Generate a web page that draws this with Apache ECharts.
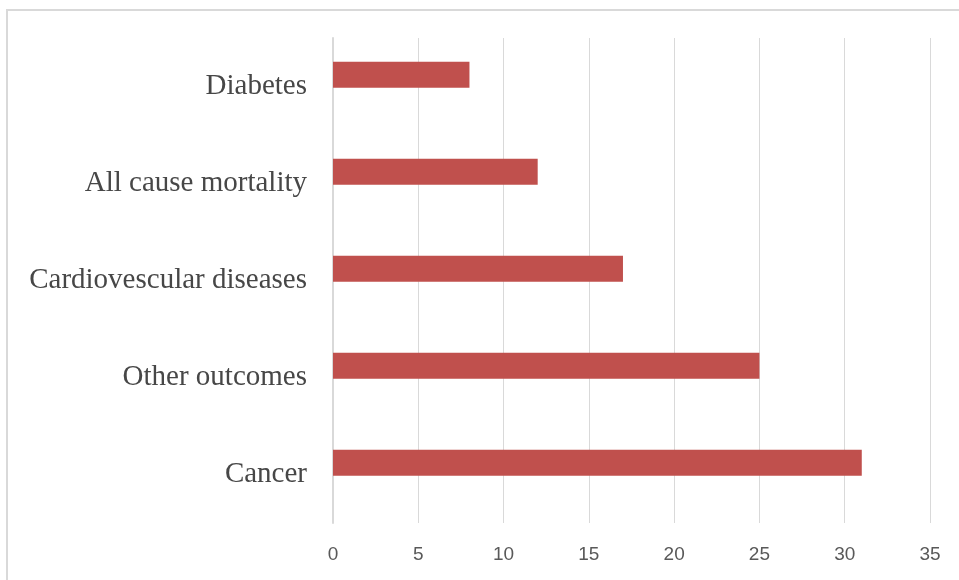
<!DOCTYPE html>
<html>
<head>
<meta charset="utf-8">
<script src="https://cdn.jsdelivr.net/npm/echarts@6/dist/echarts.min.js"></script>
<style>
  html, body { margin: 0; padding: 0; background: #fff; }
  #chart { width: 959px; height: 580px; }
</style>
</head>
<body>
<div id="chart"></div>
<script>
var categories = ['Cancer', 'Other outcomes', 'Cardiovescular diseases', 'All cause mortality', 'Diabetes'];
var counts = [31, 25, 17, 12, 8];
var xTicks = [0, 35, 5]; // min, max, step

var myChart = echarts.init(document.getElementById('chart'));

var option = {
    animation: false,
    graphic: [{
        type: 'rect',
        shape: { x: 7, y: 10, width: 1000, height: 1000 },
        style: { fill: 'none', stroke: '#d9d9d9', lineWidth: 2 },
        silent: true
    }],
    grid: {
        left: 333,
        right: 29,
        top: 38,
        bottom: 57
    },
    xAxis: {
        type: 'value',
        min: xTicks[0],
        max: xTicks[1],
        interval: xTicks[2],
        axisLine: { show: false },
        axisTick: { show: false },
        splitLine: { lineStyle: { color: '#d9d9d9', width: 1 } },
        axisLabel: {
            color: '#595959',
            fontFamily: 'Liberation Sans Narrow, Liberation Sans',
            fontSize: 19,
            margin: 22
        }
    },
    yAxis: {
        type: 'category',
        data: categories,
        axisLine: { lineStyle: { color: '#d9d9d9', width: 2 } },
        axisTick: { show: false },
        axisLabel: {
            color: '#474747',
            fontFamily: 'Liberation Serif',
            fontSize: 29,
            margin: 26
        }
    },
    series: [{
        type: 'bar',
        data: counts,
        barWidth: 26,
        barGap: '-10%',
        itemStyle: { color: '#c0504d' }
    }, {
        // empty companion series, as in the original clustered layout
        type: 'bar',
        data: [],
        barWidth: 26,
        itemStyle: { color: '#4f81bd' }
    }]
};

myChart.setOption(option, true);
</script>
</body>
</html>
